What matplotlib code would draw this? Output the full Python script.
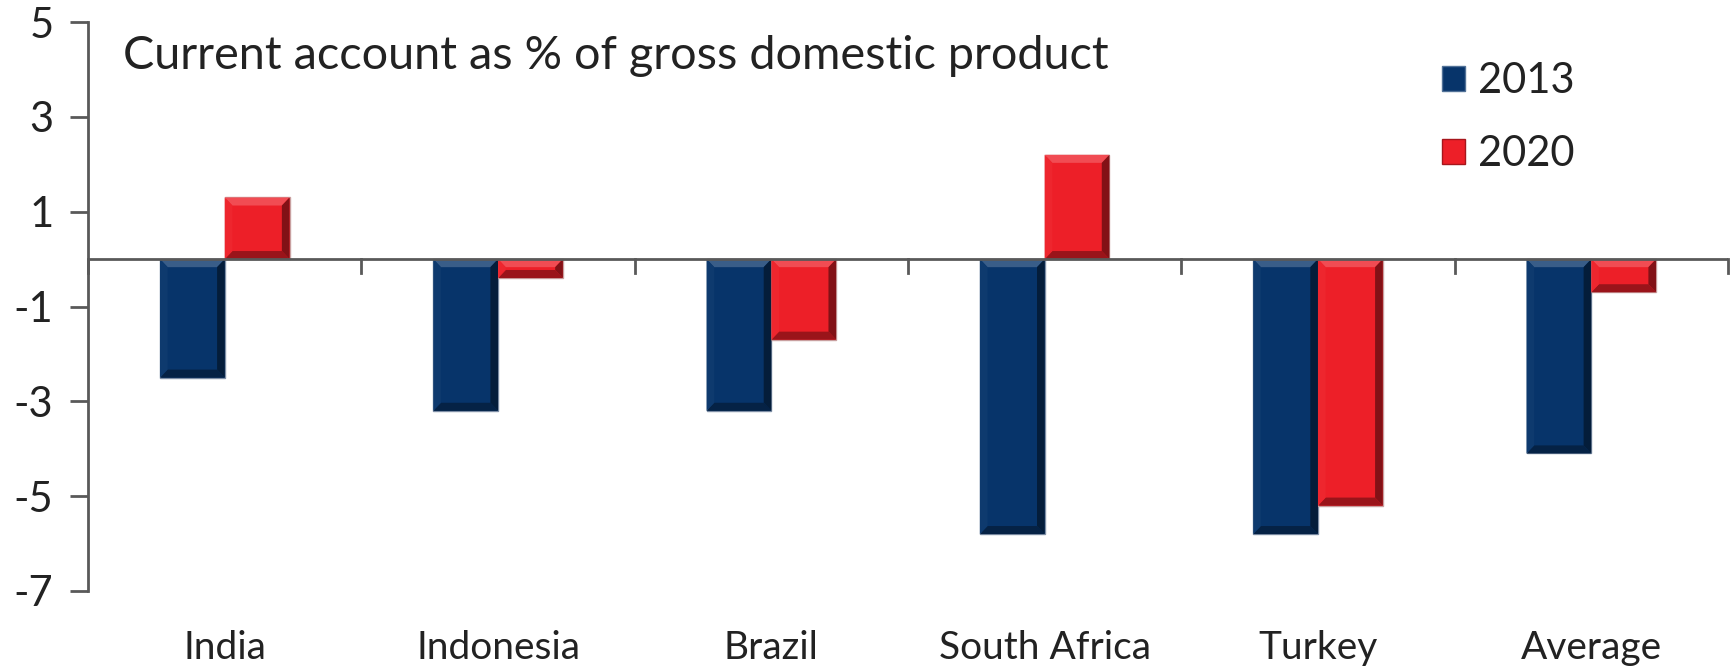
import matplotlib
matplotlib.use('Agg')
import matplotlib.pyplot as plt
from matplotlib.patches import Polygon, Rectangle
import numpy as np

plt.rcParams['font.family'] = ['Lato', 'DejaVu Sans']

countries = ['India', 'Indonesia', 'Brazil', 'South Africa', 'Turkey', 'Average']
ca_2013 = [-2.5, -3.2, -3.2, -5.8, -5.8, -4.1]
ca_2020 = [1.3, -0.4, -1.7, 2.2, -5.2, -0.7]

navy = '#07346a'
red = '#ed1f28'


def shade(color, f):
    c = np.array(matplotlib.colors.to_rgb(color))
    if f > 0:
        c = c + (1 - c) * f
    else:
        c = c * (1 + f)
    return tuple(np.clip(c, 0, 1))


def bevel(ax, bar, color, dx=0.028, dy=0.17):
    # fake 3d bevel on a bar: light top edge, darker bottom/right edges
    x0 = bar.get_x()
    x1 = x0 + bar.get_width()
    y0 = min(bar.get_y(), bar.get_y() + bar.get_height())
    y1 = max(bar.get_y(), bar.get_y() + bar.get_height())
    d = min(dy, (y1 - y0) / 2)
    e = dx * d / dy
    sides = [
        ([(x0, y1), (x1, y1), (x1 - e, y1 - d), (x0 + e, y1 - d)], 0.2),
        ([(x0, y0), (x1, y0), (x1 - e, y0 + d), (x0 + e, y0 + d)], -0.35),
        ([(x0, y0), (x0, y1), (x0 + e, y1 - d), (x0 + e, y0 + d)], 0.03),
        ([(x1, y0), (x1, y1), (x1 - e, y1 - d), (x1 - e, y0 + d)], -0.45),
    ]
    for pts, f in sides:
        ax.add_patch(Polygon(pts, closed=True, facecolor=shade(color, f),
                             edgecolor='none', zorder=3))


fig = plt.figure(figsize=(17.34, 6.68), dpi=100)
ax = fig.add_axes([0.0508, 0.1153, 0.9457, 0.8517])

x = np.arange(len(countries))
w = 0.237
b1 = ax.bar(x - w / 2, ca_2013, w, color=navy, edgecolor='#7f8fa6', linewidth=1, zorder=2)
b2 = ax.bar(x + w / 2, ca_2020, w, color=red, edgecolor='#c9a0a0', linewidth=1, zorder=2)
for bar in b1:
    bevel(ax, bar, navy)
for bar in b2:
    bevel(ax, bar, red)

ax.set_xlim(-0.5, len(countries) - 0.5)
ax.set_ylim(-7, 5)
ax.set_yticks([5, 3, 1, -1, -3, -5, -7])
ax.set_yticklabels(['5', '3', '1', '-1', '-3', '-5', '-7'])

axis_col = '#595959'
for s in ['top', 'right', 'bottom']:
    ax.spines[s].set_visible(False)
ax.spines['left'].set_color(axis_col)
ax.spines['left'].set_linewidth(2)
ax.tick_params(axis='y', length=13, width=2, color=axis_col, labelsize=30,
               labelcolor='#222222', pad=12)

# zero line with category separator ticks
ax.axhline(0, color=axis_col, linewidth=2, zorder=4)
for xb in np.arange(len(countries) + 1) - 0.5:
    ax.plot([xb, xb], [0, -0.3], color=axis_col, linewidth=2, zorder=4, clip_on=False)

ax.set_xticks(x)
ax.set_xticklabels(countries)
ax.tick_params(axis='x', length=0, labelsize=28, labelcolor='#222222', pad=28)

ax.text(0.021, 0.94, 'Current account as % of gross domestic product',
        transform=ax.transAxes, fontsize=33.7, color='#222222', va='center')

handles = [Rectangle((0, 0), 1, 1, facecolor=navy, edgecolor=shade(navy, 0.3)),
           Rectangle((0, 0), 1, 1, facecolor=red, edgecolor=shade(red, -0.3))]
ax.legend(handles, ['2013', '2020'], loc='upper left', bbox_to_anchor=(0.803, 0.996),
          frameon=False, fontsize=30, handlelength=0.55, handleheight=0.55,
          handletextpad=0.3, labelspacing=0.85, labelcolor='#222222')

plt.savefig('out.png', dpi=100)
